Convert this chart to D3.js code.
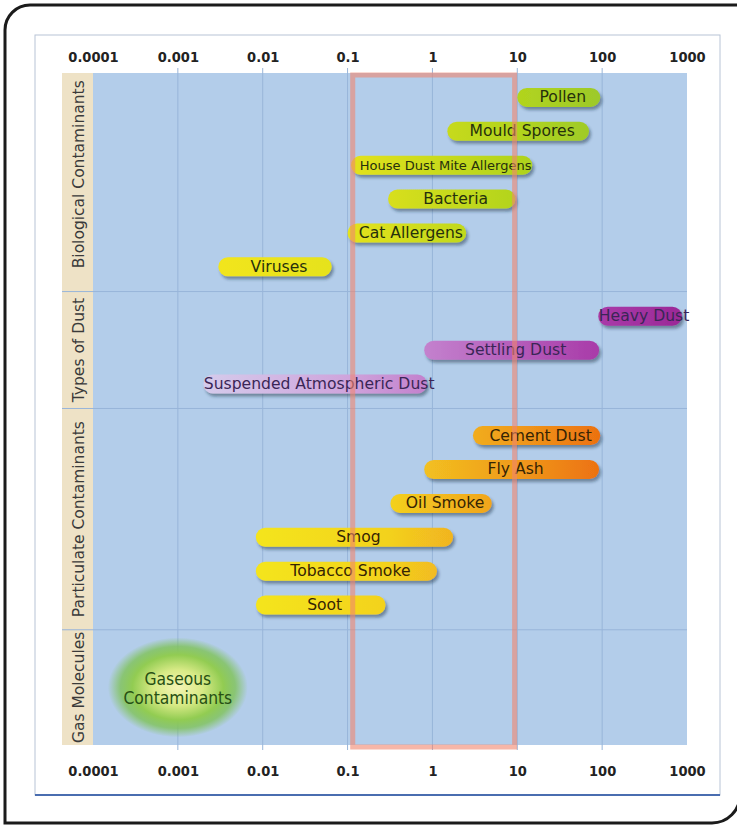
<!DOCTYPE html>
<html>
<head>
<meta charset="utf-8">
<script src="https://cdn.jsdelivr.net/npm/d3@7"></script>
<style>
  html, body { margin: 0; padding: 0; background: #fff; }
  svg { display: block; }
</style>
</head>
<body>
<div id="chart"></div>
<script>
// particle size (micrometres) on a log axis
const tickValues = [0.0001, 0.001, 0.01, 0.1, 1, 10, 100, 1000];
const tickLabels = ["0.0001", "0.001", "0.01", "0.1", "1", "10", "100", "1000"];

const sections = ["Biological Contaminants", "Types of Dust", "Particulate Contaminants", "Gas Molecules"];

const barNames = [
    "Pollen", "Mould Spores", "House Dust Mite Allergens", "Bacteria", "Cat Allergens", "Viruses",
    "Heavy Dust", "Settling Dust", "Suspended Atmospheric Dust",
    "Cement Dust", "Fly Ash", "Oil Smoke", "Smog", "Tobacco Smoke", "Soot"
];
const barSection = [0, 0, 0, 0, 0, 0, 1, 1, 1, 2, 2, 2, 2, 2, 2];
const barLow  = [10, 1.5, 0.11, 0.3, 0.1, 0.003, 90, 0.8, 0.002, 3, 0.8, 0.32, 0.0083, 0.0083, 0.0083];
const barHigh = [95, 70, 15, 9.5, 2.5, 0.065, 870, 92, 0.86, 95, 92, 5, 1.75, 1.13, 0.28];

const gasLabel = ["Gaseous", "Contaminants"];
const gasSize = 0.001;

// the highlighted (respirable) size range
const highlightRange = [0.115, 9.3];

// colour ramps along the size axis for each section
const sectionRamps = [
    [[0.001, "#f6e61a"], [0.1, "#e4e21c"], [10, "#b2d41e"], [100, "#9cc92a"]],
    [[0.001, "#d6d2ee"], [0.1, "#cfa4dc"], [1, "#c27ecc"], [100, "#a83aa8"], [1000, "#9a2896"]],
    [[0.01, "#f4e41c"], [0.3, "#f3d21e"], [1, "#f2bd20"], [10, "#f09a1c"], [100, "#ec7010"]],
    []
];
const sectionText = ["#26300c", "#3a2656", "#352404", "#333"];

const width = 737, height = 827;
const plot = { left: 93, right: 687, top: 73, bottom: 745, tanLeft: 62 };
// layout in row units: padding per section and offset of first row
const sectionPad = [0.45, 0.45, 0.53, 0.4];
const firstRow = [0.72, 0.73, 0.8, 0];

const svg = d3.select("#chart")
    .append("svg")
    .attr("width", width)
    .attr("height", height);

const defs = svg.append("defs");

const x = d3.scaleLog()
    .domain([tickValues[0], tickValues[tickValues.length - 1]])
    .range([plot.left, plot.right]);

const rowsPer = sections.map((s, i) => Math.max(3, barSection.filter(d => d === i).length));
const unitsPer = rowsPer.map((r, i) => r + sectionPad[i]);
const totalUnits = d3.sum(unitsPer);
const yUnits = d3.scaleLinear().domain([0, totalUnits]).range([plot.top, plot.bottom]);
const sectionStart = unitsPer.map((u, i) => d3.sum(unitsPer.slice(0, i)));

const bars = barNames.map((name, i) => {
    const sec = barSection[i];
    const idx = barSection.slice(0, i).filter(s => s === sec).length;
    return { name, sec, idx, lo: barLow[i], hi: barHigh[i] };
});

// outer frame
svg.append("path")
    .attr("d", "M745,5 L30,5 A25,25 0 0 0 5,30 L5,823 L712,823 A28,28 0 0 0 740,795")
    .attr("fill", "none")
    .attr("stroke", "#1b1b1b")
    .attr("stroke-width", 3);

// inner frame
svg.append("rect")
    .attr("x", 35).attr("y", 35)
    .attr("width", 685).attr("height", 760)
    .attr("fill", "#fff")
    .attr("stroke", "#b8c4d6")
    .attr("stroke-width", 1);
svg.append("line")
    .attr("x1", 35).attr("x2", 720)
    .attr("y1", 795).attr("y2", 795)
    .attr("stroke", "#4a6db0")
    .attr("stroke-width", 2);

// tan label column and blue plot area
svg.append("rect")
    .attr("x", plot.tanLeft).attr("y", plot.top)
    .attr("width", plot.left - plot.tanLeft).attr("height", plot.bottom - plot.top)
    .attr("fill", "#eee2c6");
svg.append("rect")
    .attr("x", plot.left).attr("y", plot.top)
    .attr("width", plot.right - plot.left).attr("height", plot.bottom - plot.top)
    .attr("fill", "#b3cdea");

// grid
svg.append("g").selectAll("line")
    .data(tickValues.slice(1, -1))
    .enter().append("line")
    .attr("x1", d => x(d)).attr("x2", d => x(d))
    .attr("y1", plot.top - 5).attr("y2", plot.bottom + 5)
    .attr("stroke", "#98b5d9")
    .attr("stroke-width", 1);

svg.append("g").selectAll("line")
    .data(sectionStart.slice(1))
    .enter().append("line")
    .attr("x1", plot.tanLeft).attr("x2", plot.right)
    .attr("y1", d => yUnits(d)).attr("y2", d => yUnits(d))
    .attr("stroke", "#98b5d9")
    .attr("stroke-width", 1);

// axes top and bottom
const axisFont = "'DejaVu Sans Condensed', 'DejaVu Sans', sans-serif";
function styleAxis(g) {
    g.select(".domain").remove();
    g.selectAll("text")
        .attr("font-family", axisFont)
        .attr("font-weight", "bold")
        .attr("font-size", 14.5)
        .attr("fill", "#222");
}
svg.append("g")
    .attr("transform", "translate(0,64)")
    .call(d3.axisTop(x).tickValues(tickValues).tickFormat((d, i) => tickLabels[i]).tickSize(0).tickPadding(2))
    .call(styleAxis);
svg.append("g")
    .attr("transform", "translate(0,760)")
    .call(d3.axisBottom(x).tickValues(tickValues).tickFormat((d, i) => tickLabels[i]).tickSize(0).tickPadding(6))
    .call(styleAxis);

// section labels
svg.append("g").selectAll("text")
    .data(sections)
    .enter().append("text")
    .attr("transform", (d, i) => {
        const cy = yUnits(sectionStart[i] + unitsPer[i] / 2) - (i === 0 ? 8 : 0);
        return "translate(" + ((plot.tanLeft + plot.left) / 2 + 1) + "," + cy + ") rotate(-90)";
    })
    .attr("text-anchor", "middle")
    .attr("dominant-baseline", "central")
    .attr("font-family", "'DejaVu Sans', sans-serif")
    .attr("font-size", 15.5)
    .attr("fill", "#3a3a3a")
    .text(d => d);

// gradients
const x0 = x.range()[0], x1 = x.range()[1];
sectionRamps.forEach((ramp, i) => {
    if (!ramp.length) return;
    const grad = defs.append("linearGradient")
        .attr("id", "ramp" + i)
        .attr("gradientUnits", "userSpaceOnUse")
        .attr("x1", x0).attr("x2", x1)
        .attr("y1", 0).attr("y2", 0);
    ramp.forEach(s => {
        grad.append("stop")
            .attr("offset", (x(s[0]) - x0) / (x1 - x0))
            .attr("stop-color", s[1]);
    });
});

const shadow = defs.append("filter")
    .attr("id", "shadow")
    .attr("x", "-10%").attr("y", "-60%")
    .attr("width", "130%").attr("height", "240%");
shadow.append("feDropShadow")
    .attr("dx", 2).attr("dy", 3)
    .attr("stdDeviation", 1.8)
    .attr("flood-color", "#1c2a40")
    .attr("flood-opacity", 0.45);

const barH = 19;
const barY = d => yUnits(sectionStart[d.sec] + firstRow[d.sec] + d.idx);

svg.append("g").selectAll("rect")
    .data(bars)
    .enter().append("rect")
    .attr("x", d => x(d.lo))
    .attr("y", d => barY(d) - barH / 2)
    .attr("width", d => x(d.hi) - x(d.lo))
    .attr("height", barH)
    .attr("rx", barH / 2)
    .attr("fill", d => "url(#ramp" + d.sec + ")")
    .attr("filter", "url(#shadow)");

const smallLabels = new Set(["House Dust Mite Allergens"]);
svg.append("g").selectAll("text")
    .data(bars)
    .enter().append("text")
    .attr("x", d => (x(d.lo) + x(d.hi)) / 2 + 4)
    .attr("y", d => barY(d))
    .attr("text-anchor", "middle")
    .attr("dominant-baseline", "central")
    .attr("font-family", "'DejaVu Sans', sans-serif")
    .attr("font-size", d => smallLabels.has(d.name) ? 13 : 15.6)
    .attr("fill", d => sectionText[d.sec])
    .text(d => d.name);

// gaseous blob
const gasG = defs.append("radialGradient").attr("id", "gas");
[[0, "#f4f4b4", 1], [0.35, "#d8ea86", 1], [0.65, "#92cc52", 1], [0.82, "#7cc24e", 0.75], [1, "#7cc24e", 0]]
    .forEach(s => gasG.append("stop").attr("offset", s[0]).attr("stop-color", s[1]).attr("stop-opacity", s[2]));

const gasY = yUnits(sectionStart[3] + unitsPer[3] / 2);
svg.append("ellipse")
    .attr("cx", x(gasSize))
    .attr("cy", gasY)
    .attr("rx", 70)
    .attr("ry", 50)
    .attr("fill", "url(#gas)");
svg.append("g").selectAll("text")
    .data(gasLabel)
    .enter().append("text")
    .attr("x", x(gasSize))
    .attr("y", (d, i) => gasY - 8 + i * 19)
    .attr("text-anchor", "middle")
    .attr("dominant-baseline", "central")
    .attr("font-family", axisFont)
    .attr("font-size", 17.3)
    .attr("fill", "#275014")
    .text(d => d);

// highlight box
svg.append("rect")
    .attr("x", x(highlightRange[0]))
    .attr("y", plot.top + 2)
    .attr("width", x(highlightRange[1]) - x(highlightRange[0]))
    .attr("height", plot.bottom - plot.top)
    .attr("fill", "none")
    .attr("stroke", "#f0866e")
    .attr("stroke-opacity", 0.6)
    .attr("stroke-width", 5);
</script>
</body>
</html>
